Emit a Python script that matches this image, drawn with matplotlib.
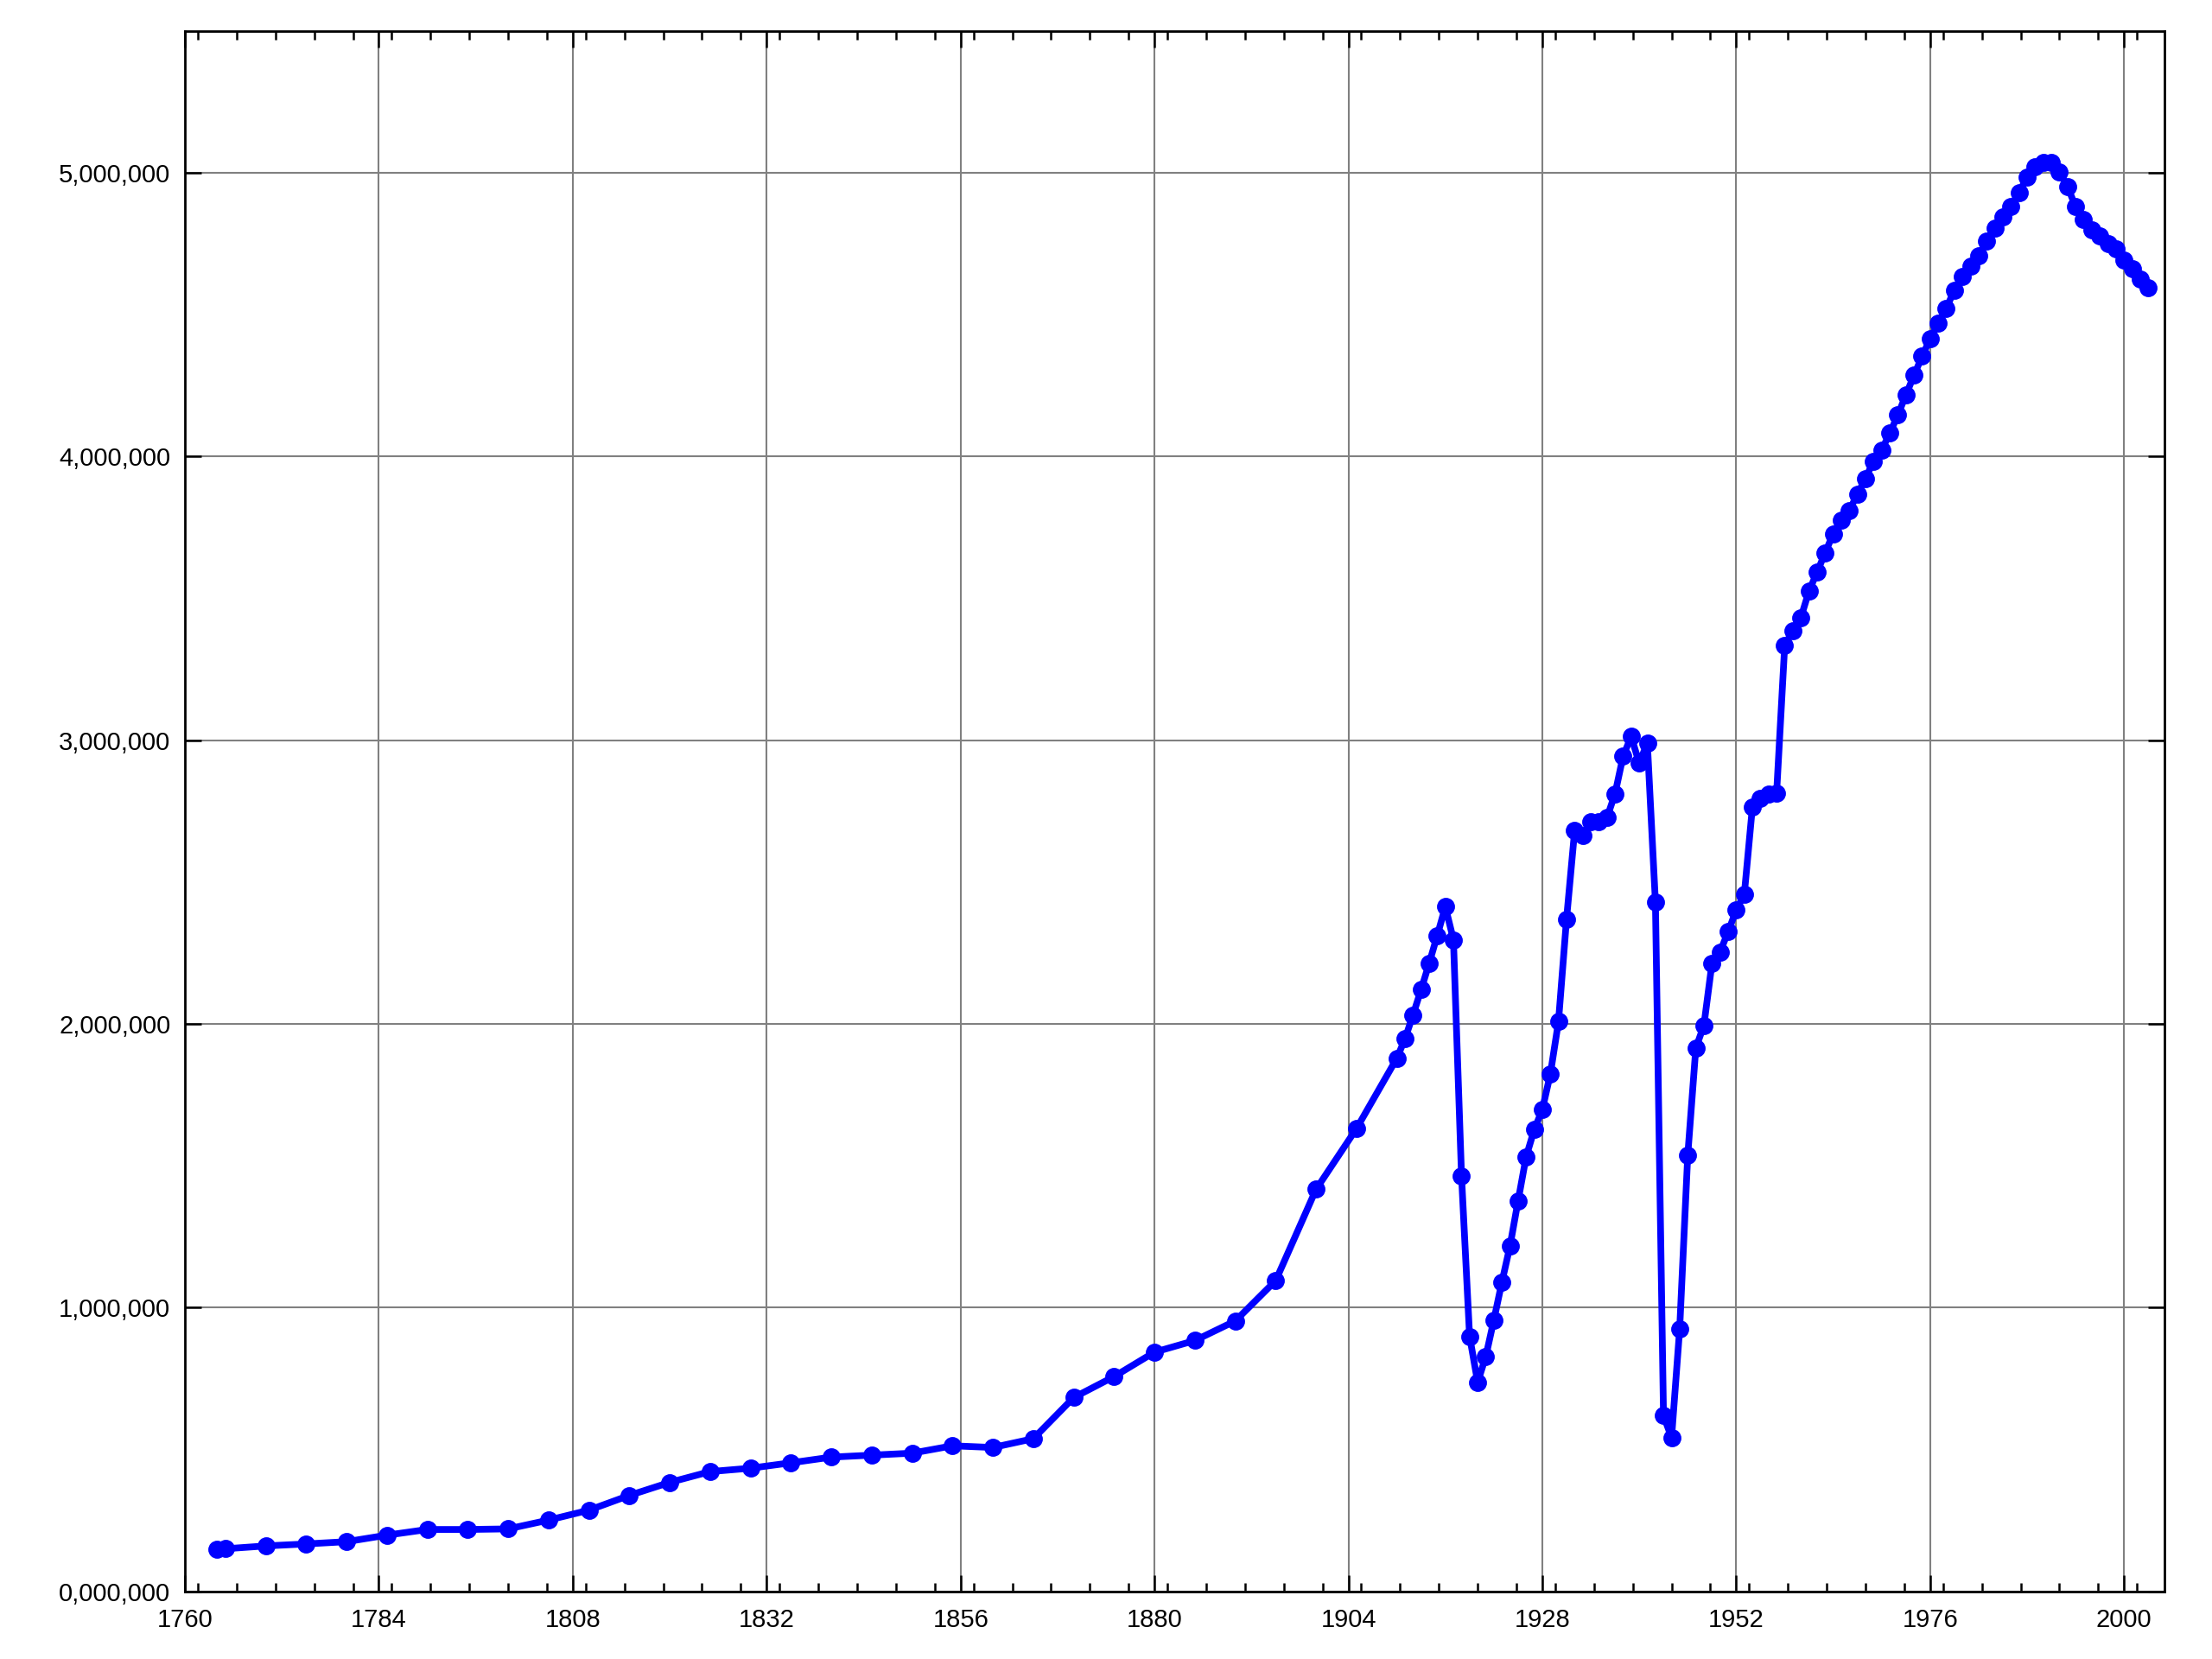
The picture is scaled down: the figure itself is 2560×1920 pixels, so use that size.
import matplotlib.pyplot as plt
from matplotlib.ticker import FuncFormatter, MultipleLocator, FixedLocator

years = [1764, 1765, 1770, 1775, 1780, 1785, 1790, 1795, 1800, 1805,
         1810, 1815, 1820, 1825, 1830, 1835, 1840, 1845, 1850, 1855,
         1860, 1865, 1870, 1875, 1880, 1885, 1890, 1895, 1900, 1905,
         1910] + list(range(1911, 2004))

# thousands of people
pop_k = [149, 150, 160, 167, 175, 198, 218, 218, 220, 251,
         286, 338, 384, 422, 434, 453, 473, 480, 487, 513,
         507, 538, 683, 757, 843, 884, 953, 1095, 1417, 1631,
         1879,
         # 1911-1920
         1947, 2032, 2121, 2214, 2312, 2413, 2297, 1465, 899, 737,
         # 1921-1930
         827, 956, 1090, 1217, 1376, 1532, 1627, 1698, 1824, 2008,
         # 1931-1940
         2370, 2681, 2664, 2714, 2712, 2727, 2811, 2944, 3013, 2919,
         # 1941-1950
         2991, 2429, 619, 542, 925, 1537, 1915, 1995, 2214, 2254,
         # 1951-1960
         2325, 2401, 2457, 2764, 2795, 2811, 2814, 3334, 3386, 3432,
         # 1961-1970
         3525, 3592, 3660, 3728, 3776, 3810, 3867, 3923, 3984, 4023,
         # 1971-1980
         4082, 4146, 4217, 4286, 4353, 4415, 4469, 4523, 4586, 4634,
         # 1981-1990
         4670, 4708, 4761, 4805, 4846, 4881, 4931, 4985, 5023, 5038,
         # 1991-2000
         5036, 5003, 4952, 4881, 4837, 4800, 4778, 4749, 4732, 4693,
         # 2001-2003
         4661, 4627, 4594]

pop = [v * 1000 for v in pop_k]

x_ticks = [1760, 1784, 1808, 1832, 1856, 1880, 1904, 1928, 1952, 1976, 2000]
y_ticks = [0, 1000000, 2000000, 3000000, 4000000, 5000000]

plt.rcParams['font.family'] = ['Liberation Sans', 'DejaVu Sans']

fig = plt.figure(figsize=(12.8, 9.6), dpi=200)
ax = fig.add_axes([0.0836, 0.0408, 0.8949, 0.9405])

ax.plot(years, pop, color='#0000ff', lw=2.8, marker='o', ms=6.5,
        solid_joinstyle='round', zorder=3)

def fmt(v, pos):
    v = int(round(v))
    return "%d,%03d,%03d" % (v // 1000000, (v // 1000) % 1000, v % 1000)

ax.set_xlim(1760, 2005)
ax.set_ylim(0, 5500000)
ax.xaxis.set_major_locator(FixedLocator(x_ticks))
ax.xaxis.set_minor_locator(MultipleLocator(4.8))
ax.yaxis.set_major_locator(FixedLocator(y_ticks))
ax.yaxis.set_major_formatter(FuncFormatter(fmt))

ax.grid(True, which='major', color='#808080', lw=0.75, zorder=0)
ax.tick_params(which='both', direction='in', top=True, right=True,
               labelsize=10.5, width=0.9, color='black')
ax.tick_params(which='major', length=6.8)
ax.tick_params(axis='x', which='major', pad=7)
ax.tick_params(axis='y', which='major', pad=6)
ax.tick_params(which='minor', length=3.6)
ax.tick_params(axis='y', which='minor', left=False, right=False)
for s in ax.spines.values():
    s.set_linewidth(1.0)
    s.set_zorder(4)

fig.savefig('out.png', dpi=200)
